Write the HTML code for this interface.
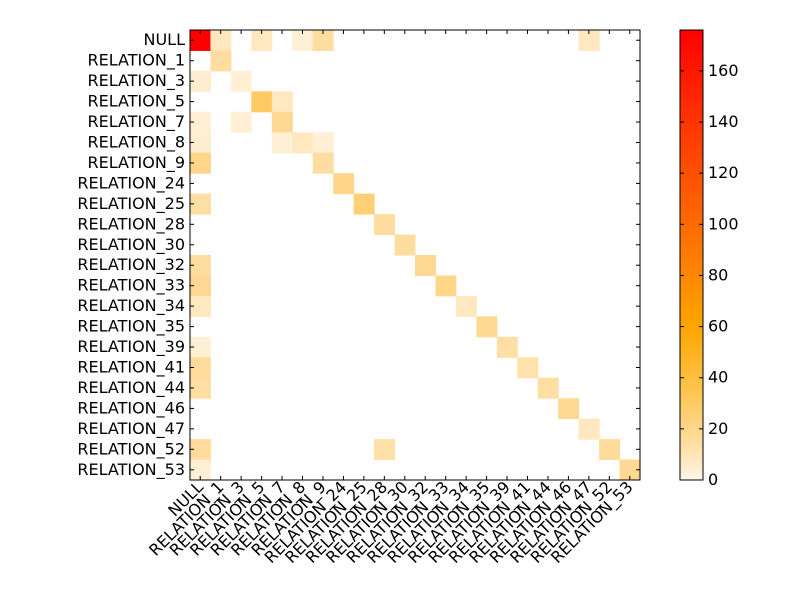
<!DOCTYPE html>
<html><head><meta charset="utf-8"><style>
body{margin:0;background:#fff;width:800px;height:600px;overflow:hidden}
svg text{font-family:"DejaVu Sans","Liberation Sans",sans-serif;font-size:16px;fill:#000}
</style></head><body>
<svg id="chart" width="800" height="600" xmlns="http://www.w3.org/2000/svg"></svg>
<script>
const labels = ["NULL","RELATION_1","RELATION_3","RELATION_5","RELATION_7","RELATION_8","RELATION_9","RELATION_24","RELATION_25","RELATION_28","RELATION_30","RELATION_32","RELATION_33","RELATION_34","RELATION_35","RELATION_39","RELATION_41","RELATION_44","RELATION_46","RELATION_47","RELATION_52","RELATION_53"];
const cellRows = [0,0,0,0,0,0,1,2,2,3,3,4,4,4,5,5,5,5,6,6,7,8,8,9,10,11,11,12,12,13,13,14,15,15,16,16,17,17,18,19,20,20,20,21,21];
const cellCols = [0,1,3,5,6,19,1,0,2,3,4,0,2,4,0,4,5,6,0,6,7,0,8,9,10,0,11,0,12,0,13,14,0,15,0,16,0,17,18,19,0,9,20,0,21];
const cellVals = [176,8,8,4,15,8,15,5,4,30,8,4,4,18,5,4,8,4,20,15,20,14,25,15,15,15,18,18,20,8,8,18,4,14,16,12,14,14,18,8,16,13,16,4,18];
const cbTicks = [0,20,40,60,80,100,120,140,160];
const vmax = 176;

const NS="http://www.w3.org/2000/svg", svg=document.getElementById('chart');
const X0=190,Y0=30,W=450,H=450,n=labels.length,cw=W/n,ch=H/n;
const xs=i=>X0+i*cw, ys=i=>Y0+i*ch;
const stops=[[0,[255,255,255]],[2,[255,243,224]],[10,[255,228,181]],[20,[255,214,138]],[35,[255,196,79]],[60,[255,165,0]],[100,[255,106,0]],[140,[255,53,0]],[176,[255,0,0]]];
function color(v){for(let i=1;i<stops.length;i++){if(v<=stops[i][0]){const a=stops[i-1],b=stops[i],t=(v-a[0])/(b[0]-a[0]);const c=a[1].map((x,k)=>Math.round(x+(b[1][k]-x)*t));return `rgb(${c})`;}}return 'rgb(255,0,0)';}
function el(t,a,p){const e=document.createElementNS(NS,t);for(const k in a)e.setAttribute(k,a[k]);(p||svg).appendChild(e);return e;}
const gCells=el('g',{});


for(let k=0;k<cellVals.length;k++){
  const r=el('rect',{x:xs(cellCols[k]),y:ys(cellRows[k]),width:cw+0.5,height:ch+0.5,fill:color(cellVals[k])},gCells);
  
  
}
const frame=el('rect',{x:X0,y:Y0,width:W,height:H,fill:'none',stroke:'#000','stroke-width':1});


for(let i=0;i<n;i++){
  const cx=xs(i)+cw/2, cy=ys(i)+ch/2;
  el('line',{x1:cx,x2:cx,y1:Y0,y2:Y0+4,stroke:'#000'});
  el('line',{x1:cx,x2:cx,y1:Y0+H,y2:Y0+H-4,stroke:'#000'});
  el('line',{x1:X0,x2:X0+4,y1:cy,y2:cy,stroke:'#000'});
  el('line',{x1:X0+W,x2:X0+W-4,y1:cy,y2:cy,stroke:'#000'});
  const yl=el('text',{x:X0-5,y:cy+5,'text-anchor':'end'});yl.textContent=labels[i];
  
  
  const xl=el('text',{x:0,y:0,'text-anchor':'end',transform:`translate(${cx+4},${Y0+H+8}) rotate(-45)`});xl.textContent=labels[i];
  
  
}
const CX=680,CW=23;
const defs=el('defs',{});
const grad=el('linearGradient',{id:'cb',x1:0,y1:1,x2:0,y2:0},defs);
stops.forEach(s=>el('stop',{offset:s[0]/vmax,'stop-color':s[0]===0?'rgb(255,250,235)':`rgb(${s[1]})`},grad));
const cb=el('rect',{x:CX,y:Y0,width:CW,height:H,fill:'url(#cb)',stroke:'#000'});


cbTicks.forEach(t=>{
  const y=Y0+H-t/vmax*H;
  el('line',{x1:CX,x2:CX+4,y1:y,y2:y,stroke:'#000'});
  el('line',{x1:CX+CW,x2:CX+CW-4,y1:y,y2:y,stroke:'#000'});
  const tl=el('text',{x:CX+CW+5,y:y+5});tl.textContent=t;
  
  
});
</script>
</body></html>
